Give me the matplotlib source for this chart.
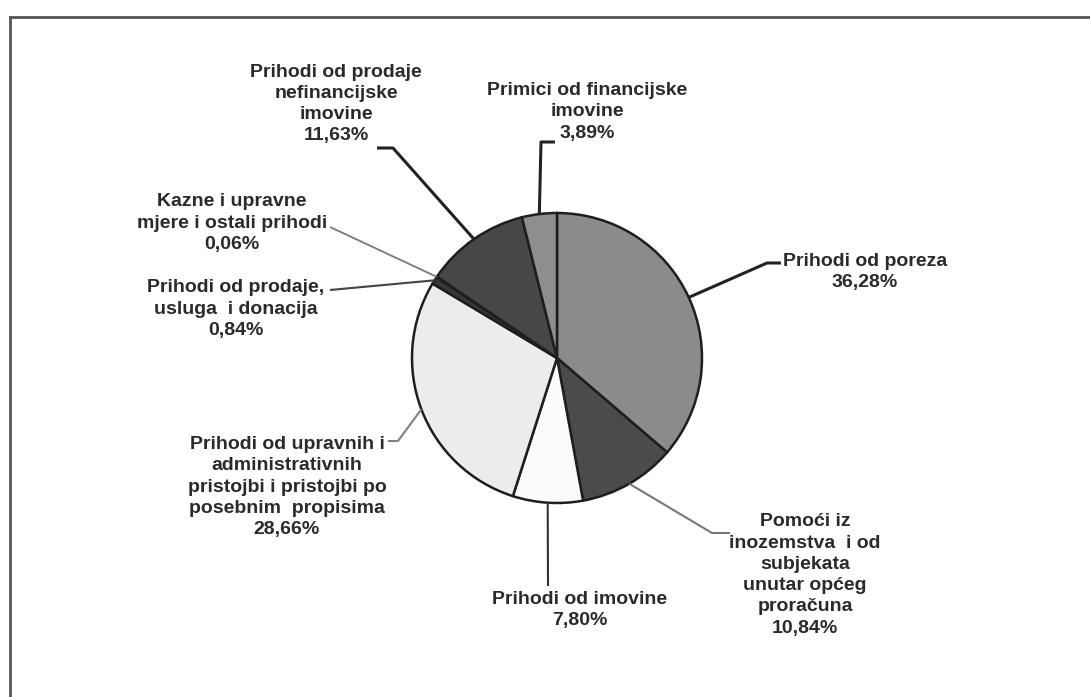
import numpy as np
import matplotlib
matplotlib.use("Agg")
import matplotlib.pyplot as plt

# --- data ---
labels = [
    "Prihodi od poreza",
    "Pomoći iz\ninozemstva  i od\nsubjekata\nunutar općeg\nproračuna",
    "Prihodi od imovine",
    "Prihodi od upravnih i\nadministrativnih\npristojbi i pristojbi po\nposebnim  propisima",
    "Prihodi od prodaje,\nusluga  i donacija",
    "Kazne i upravne\nmjere i ostali prihodi",
    "Prihodi od prodaje\nnefinancijske\nimovine",
    "Primici od financijske\nimovine",
]
shares = [36.28, 10.84, 7.80, 28.66, 0.84, 0.06, 11.63, 3.89]
colors = ["#8b8b8b", "#4b4b4b", "#fbfbfb", "#ececec", "#383838", "#505050", "#474747", "#8e8e8e"]

# label block centres and leader bends (pixel coords, y down)
text_pos = [(865, 272), (805, 575), (580, 610), (287, 487), (236, 309), (232, 223), (336, 104), (587, 112)]
elbows = [(767, 263), (712, 533), (548, 586), (398, 441), (330, 290), (330, 227), (393, 148), (541, 142)]
line_ends = [(781, 263), (730, 533), None, (388, 441), None, None, (377, 148), (555, 142)]
line_col = ["#222222", "#777777", "#333333", "#808080", "#444444", "#7a7a7a", "#222222", "#222222"]
line_w = [2.2, 1.5, 1.5, 1.5, 1.5, 1.3, 2.2, 2.2]

W, H = 1090, 697
CX, CY, R = 557, 358, 145

fig = plt.figure(figsize=(W / 100, H / 100), dpi=100)
ax = fig.add_axes([0, 0, 1, 1])

# y is inverted, so counterclock=True in data looks clockwise on screen
wedges, _ = ax.pie(shares, colors=colors, startangle=-90, counterclock=True,
                   center=(CX, CY), radius=R,
                   wedgeprops=dict(edgecolor="#1e1e1e", linewidth=1.8))
ax.set_xlim(0, W)
ax.set_ylim(H, 0)
ax.set_aspect("equal")
ax.axis("off")

for i, w in enumerate(wedges):
    mid = np.deg2rad((w.theta1 + w.theta2) / 2)
    ex, ey = CX + R * np.cos(mid), CY + R * np.sin(mid)
    xs = [ex, elbows[i][0]]
    ys = [ey, elbows[i][1]]
    if line_ends[i] is not None:
        xs.append(line_ends[i][0])
        ys.append(line_ends[i][1])
    ax.plot(xs, ys, color=line_col[i], lw=line_w[i], solid_capstyle="butt")
    txt = labels[i] + "\n" + f"{shares[i]:.2f}%".replace(".", ",")
    ax.text(text_pos[i][0], text_pos[i][1], txt, ha="center", va="center",
            fontsize=14, fontweight="bold", family="Liberation Sans",
            color="#2a2a2a", linespacing=1.33)

# scanned frame: top and left edges
ax.plot([10, W], [17, 17], color="#555555", lw=2)
ax.plot([10, 10], [17, H], color="#555555", lw=2)

fig.savefig("out.png", dpi=100, facecolor="white")
